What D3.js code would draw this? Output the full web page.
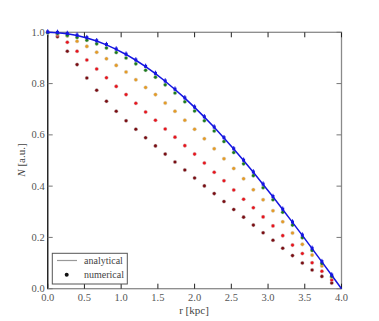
<!DOCTYPE html>
<html>
<head>
<meta charset="utf-8">
<script src="https://cdn.jsdelivr.net/npm/d3@7"></script>
<style>
  body { margin: 0; background: #fff; }
  svg { display: block; font-family: "Liberation Serif", "DejaVu Serif", serif; }
</style>
</head>
<body>
<svg width="379" height="321"></svg>
<script>
// r grid: 0 .. 4 kpc in 30 steps
const radii = [0, 0.133, 0.267, 0.4, 0.533, 0.667, 0.8, 0.933, 1.067, 1.2, 1.333, 1.467, 1.6, 1.733, 1.867,
  2.0, 2.133, 2.267, 2.4, 2.533, 2.667, 2.8, 2.933, 3.067, 3.2, 3.333, 3.467, 3.6, 3.733, 3.867];

const analytical = [1.0, 0.9986, 0.9945, 0.9877, 0.9781, 0.9659, 0.9511, 0.9336, 0.9135, 0.891, 0.866, 0.8387,
  0.809, 0.7771, 0.7431, 0.7071, 0.6691, 0.6293, 0.5878, 0.5446, 0.5, 0.454, 0.4067, 0.3584, 0.309, 0.2588,
  0.2079, 0.1564, 0.1045, 0.0523, 0.0];
const analyticalR = radii.concat([4.0]);

const blueVals = analytical.slice(0, 30);
const greenVals = [0.998, 0.995, 0.988, 0.98, 0.969, 0.955, 0.939, 0.921, 0.9, 0.877, 0.852, 0.825, 0.795, 0.763,
  0.729, 0.693, 0.655, 0.615, 0.574, 0.531, 0.487, 0.441, 0.394, 0.347, 0.298, 0.248, 0.199, 0.149, 0.098, 0.048];
const orangeVals = [1.0, 0.996, 0.986, 0.965, 0.945, 0.922, 0.897, 0.871, 0.845, 0.815, 0.785, 0.757, 0.724, 0.692,
  0.657, 0.622, 0.585, 0.546, 0.507, 0.469, 0.429, 0.386, 0.347, 0.304, 0.261, 0.217, 0.173, 0.131, 0.089, 0.045];
const redVals = [1.0, 0.99, 0.961, 0.926, 0.892, 0.857, 0.823, 0.789, 0.757, 0.723, 0.689, 0.657, 0.623, 0.591,
  0.558, 0.525, 0.49, 0.454, 0.421, 0.385, 0.349, 0.316, 0.28, 0.245, 0.207, 0.17, 0.137, 0.101, 0.068, 0.034];
const darkVals = [1.0, 0.983, 0.926, 0.874, 0.822, 0.774, 0.731, 0.692, 0.655, 0.622, 0.589, 0.557, 0.525, 0.494,
  0.463, 0.432, 0.401, 0.371, 0.34, 0.309, 0.279, 0.248, 0.218, 0.189, 0.158, 0.129, 0.1, 0.073, 0.048, 0.022];

const xTicks = [0, 0.5, 1.0, 1.5, 2.0, 2.5, 3.0, 3.5, 4.0];
const yTicks = [0, 0.2, 0.4, 0.6, 0.8, 1.0];

const svg = d3.select("svg");
const pLeft = 47.7, pRight = 341.5, pTop = 32.3, pBottom = 288.7;

const x = d3.scaleLinear().domain([0, 4]).range([pLeft, pRight]);
const y = d3.scaleLinear().domain([0, 1]).range([pBottom, pTop]);

// frame
svg.append("rect")
  .attr("x", pLeft).attr("y", pTop)
  .attr("width", pRight - pLeft).attr("height", pBottom - pTop)
  .attr("fill", "none").attr("stroke", "#8a8a8a").attr("stroke-width", 1.3);
svg.append("line")
  .attr("x1", pLeft).attr("x2", pLeft).attr("y1", pTop).attr("y2", pBottom)
  .attr("stroke", "#222").attr("stroke-width", 1.3);

// ticks (inward)
const tickG = svg.append("g");
xTicks.forEach(t => {
  tickG.append("line").attr("x1", x(t)).attr("x2", x(t)).attr("y1", pBottom).attr("y2", pBottom - 5)
    .attr("stroke", "#222").attr("stroke-width", 1);
  tickG.append("line").attr("x1", x(t)).attr("x2", x(t)).attr("y1", pTop).attr("y2", pTop + 5)
    .attr("stroke", "#222").attr("stroke-width", 1);
  svg.append("text").attr("x", x(t)).attr("y", 301)
    .attr("text-anchor", "middle").attr("font-size", 10.5).attr("fill", "#555")
    .text(t.toFixed(1));
});
yTicks.forEach(t => {
  tickG.append("line").attr("x1", pLeft).attr("x2", pLeft + 5).attr("y1", y(t)).attr("y2", y(t))
    .attr("stroke", "#777").attr("stroke-width", 1);
  tickG.append("line").attr("x1", pRight).attr("x2", pRight - 5).attr("y1", y(t)).attr("y2", y(t))
    .attr("stroke", "#777").attr("stroke-width", 1);
  svg.append("text").attr("x", pLeft - 3).attr("y", y(t) + 3.5)
    .attr("text-anchor", "end").attr("font-size", 10.5).attr("fill", "#555")
    .text(t.toFixed(1));
});

// axis labels
svg.append("text").attr("x", 194).attr("y", 314)
  .attr("text-anchor", "middle").attr("font-size", 11).attr("fill", "#444")
  .text("r [kpc]");
svg.append("text").attr("transform", "translate(25,160) rotate(-90)")
  .attr("text-anchor", "middle").attr("font-size", 11).attr("fill", "#444")
  .html('<tspan font-style="italic">N</tspan> [a.u.]');

// numerical series
function dots(vals, color) {
  svg.append("g").selectAll("circle")
    .data(vals)
    .enter()
    .append("circle")
    .attr("cx", (d, i) => x(radii[i]))
    .attr("cy", d => y(d))
    .attr("r", 1.8)
    .attr("fill", color)
    .attr("stroke", "#ccc")
    .attr("stroke-width", 0.4);
}
dots(darkVals, "#7a0d12");
dots(redVals, "#e8141c");
dots(orangeVals, "#e59b25");
dots(greenVals, "#1c7c1c");

// analytical curve
svg.append("path")
  .datum(analytical)
  .attr("fill", "none")
  .attr("stroke", "#1515e0")
  .attr("stroke-width", 1.5)
  .attr("d", d3.line().x((d, i) => x(analyticalR[i])).y(d => y(d)));

// blue markers with small vertical bars
const blueG = svg.append("g");
blueG.selectAll("line")
  .data(blueVals)
  .enter()
  .append("line")
  .attr("x1", (d, i) => x(radii[i])).attr("x2", (d, i) => x(radii[i]))
  .attr("y1", d => y(d) - 3).attr("y2", d => y(d) + 1.5)
  .attr("stroke", "#1515e0").attr("stroke-width", 1);
blueG.selectAll("rect")
  .data(blueVals)
  .enter()
  .append("rect")
  .attr("x", (d, i) => x(radii[i]) - 1.5)
  .attr("y", d => y(d) - 1.8)
  .attr("width", 3).attr("height", 3)
  .attr("fill", "#1515e0");

// legend
const leg = svg.append("g");
leg.append("rect").attr("x", 52.3).attr("y", 253.3).attr("width", 75).attr("height", 30.7)
  .attr("fill", "#fff").attr("stroke", "#555").attr("stroke-width", 1);
leg.append("line").attr("x1", 57).attr("x2", 77).attr("y1", 260.5).attr("y2", 260.5)
  .attr("stroke", "#999").attr("stroke-width", 1.2);
leg.append("text").attr("x", 84).attr("y", 264).attr("font-size", 10).attr("fill", "#444").text("analytical");
leg.append("circle").attr("cx", 66.7).attr("cy", 274.8).attr("r", 2).attr("fill", "#111");
leg.append("text").attr("x", 84).attr("y", 278).attr("font-size", 10).attr("fill", "#444").text("numerical");
</script>
</body>
</html>
